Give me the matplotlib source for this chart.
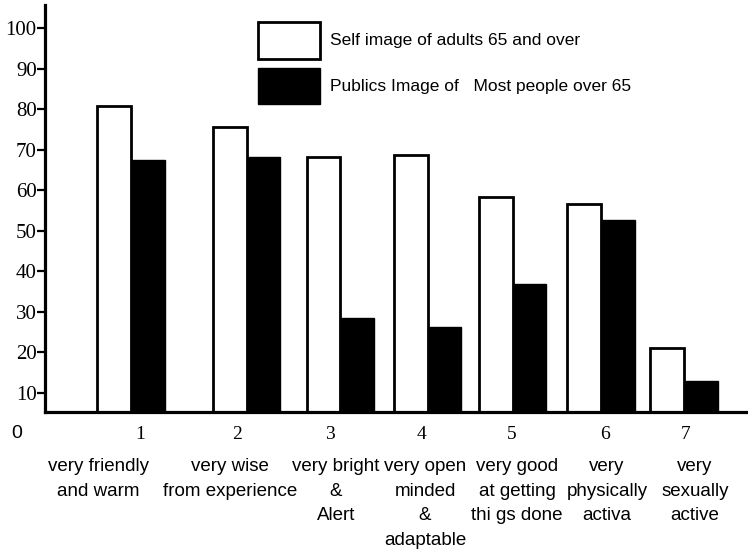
import numpy as np
import matplotlib
matplotlib.use("Agg")
import matplotlib.pyplot as plt

# values (percent)
self_image = [80.7, 75.6, 68.2, 68.7, 58.3, 56.6, 21.1]
public_image = [67.4, 68.2, 28.5, 26.3, 36.9, 52.7, 13.0]
numbers = ["1", "2", "3", "4", "5", "6", "7"]
traits = ["very friendly\nand warm",
          "very wise\nfrom experience",
          "very bright\n&\nAlert",
          "very open\nminded\n&\nadaptable",
          "very good\nat getting\nthi gs done",
          "very\nphysically\nactiva",
          "very\nsexually\nactive"]
legend_labels = ["Self image of adults 65 and over",
                 "Publics Image of   Most people over 65"]
yticks = [10, 20, 30, 40, 50, 60, 70, 80, 90, 100]

# layout (the scan has uneven spacing)
group_pos = np.array([0.86, 2.02, 2.95, 3.83, 4.68, 5.56, 6.39])
num_pos = [0.95, 1.92, 2.85, 3.77, 4.67, 5.60, 6.41]
trait_pos = [0.53, 1.85, 2.91, 3.80, 4.72, 5.62, 6.50]
bar_w = 0.335

serif = ["Liberation Serif", "DejaVu Serif"]
sans = ["Liberation Sans", "DejaVu Sans"]

fig = plt.figure(figsize=(7.48, 5.49), dpi=100)
ax = fig.add_axes([45/748, 137/549, 703/748, 407/549])

b1 = ax.bar(group_pos - bar_w/2, self_image, bar_w, color="white",
            edgecolor="black", linewidth=2, label=legend_labels[0])
b2 = ax.bar(group_pos + bar_w/2, public_image, bar_w, color="black",
            edgecolor="black", linewidth=1, label=legend_labels[1])

ax.set_xlim(0, 7.03)
ax.set_ylim(5.3, 105.7)

for s in ["top", "right"]:
    ax.spines[s].set_visible(False)
for s in ["left", "bottom"]:
    ax.spines[s].set_linewidth(2.3)

ax.set_yticks(yticks)
ax.set_yticklabels([str(v) for v in yticks], family=serif, fontsize=15)
ax.tick_params(axis="y", length=6, width=1.6, pad=0)

ax.set_xticks(num_pos)
ax.set_xticklabels(numbers, family=serif, fontsize=14)
ax.tick_params(axis="x", length=0, pad=10)

fig.text(17/748, 1 - 434/549, "0", family=sans, fontsize=14,
         ha="center", va="center")

for x, t in zip(trait_pos, traits):
    ax.annotate(t, xy=(x, 0), xycoords=("data", "axes fraction"),
                xytext=(0, -33), textcoords="offset points",
                ha="center", va="top", family=sans, fontsize=13.5,
                linespacing=1.6, annotation_clip=False)

ax.legend(handles=[b1, b2], loc="upper left", bbox_to_anchor=(0.303, 0.958),
          frameon=False, prop={"family": "Liberation Sans", "size": 12.5},
          handlelength=3.57, handleheight=2.85, labelspacing=0.53,
          handletextpad=0.6, borderpad=0, borderaxespad=0)

fig.savefig("out.png", dpi=100)
